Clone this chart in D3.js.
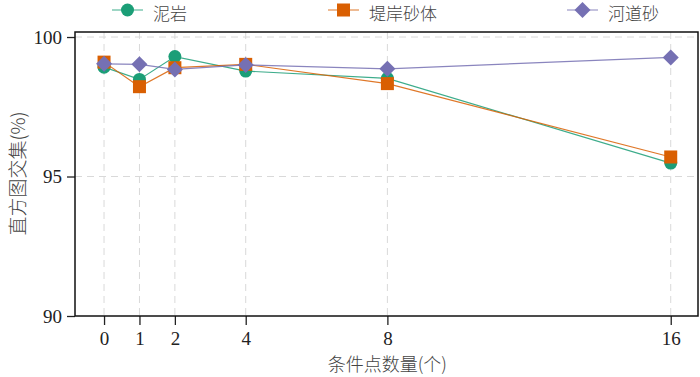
<!DOCTYPE html>
<meta charset="utf-8">
<style>
body { margin: 0; background: #fff; }
.grid line { stroke: #d9d9d9; stroke-dasharray: 7,5; stroke-width: 1; }
.axis text { font-family: "Liberation Serif", serif; font-size: 19px; fill: #222; }
.axis path { display: none; }
.axis line { stroke: #222; stroke-width: 1.3px; }
.title { font-family: "Noto Sans CJK SC", sans-serif; font-size: 18px; fill: #444; font-weight: 300; }
</style>
<svg width="700" height="377"></svg>
<script src="https://cdn.jsdelivr.net/npm/d3@7"></script>
<script>

var xs = [0, 1, 2, 4, 8, 16];
var names = ["泥岩", "堤岸砂体", "河道砂"];
var colors = ["#1b9e77", "#d95f02", "#7570b3"];
var mudstone = [98.92, 98.48, 99.3, 98.78, 98.52, 95.48];
var levee = [99.1, 98.22, 98.9, 99.02, 98.33, 95.7];
var channel = [99.04, 99.02, 98.84, 99.0, 98.86, 99.27];
var yTicks = [90, 95, 100];

var series = [mudstone, levee, channel];

var svg = d3.select("svg"),
    mLeft = 75, mRight = 698, mTop = 32, mBottom = 316;

var x = d3.scaleLinear().domain([-0.82, 16.77]).range([mLeft, mRight]);
var y = d3.scaleLinear().domain([90, 100.18]).range([mBottom, mTop]);

// grid
svg.append("g").attr("class", "grid")
  .selectAll("line").data(xs).enter().append("line")
    .attr("x1", d => x(d)).attr("x2", d => x(d))
    .attr("y1", mTop).attr("y2", mBottom);
svg.append("g").attr("class", "grid")
  .selectAll("line").data([95, 100]).enter().append("line")
    .attr("x1", mLeft).attr("x2", mRight)
    .attr("y1", d => y(d)).attr("y2", d => y(d));

// axes
svg.append("g").attr("class", "axis")
    .attr("transform", "translate(0," + mBottom + ")")
    .call(d3.axisBottom(x).tickValues(xs).tickSize(9).tickPadding(7));
svg.append("g").attr("class", "axis")
    .attr("transform", "translate(" + mLeft + ",0)")
    .call(d3.axisLeft(y).tickValues(yTicks).tickSize(8).tickPadding(5));

svg.append("rect")
    .attr("x", mLeft).attr("y", mTop)
    .attr("width", mRight - mLeft).attr("height", mBottom - mTop)
    .attr("fill", "none").attr("stroke", "#111").attr("stroke-width", 1.5);

function marker(g, i, cx, cy) {
  if (i == 0) {
    g.append("circle").attr("cx", cx).attr("cy", cy).attr("r", 6.5).attr("fill", colors[i]);
  } else if (i == 1) {
    g.append("rect").attr("x", cx - 6.5).attr("y", cy - 6.5)
      .attr("width", 13).attr("height", 13).attr("fill", colors[i]);
  } else {
    g.append("path").attr("d", "M" + cx + "," + (cy - 8) + "L" + (cx + 8) + "," + cy +
      "L" + cx + "," + (cy + 8) + "L" + (cx - 8) + "," + cy + "Z").attr("fill", colors[i]);
  }
}

var line = d3.line().x((d, j) => x(xs[j])).y(d => y(d));

series.forEach(function(s, i) {
  var g = svg.append("g");
  g.append("path").datum(s).attr("d", line)
    .attr("fill", "none").attr("stroke", colors[i]).attr("stroke-width", 1.2).attr("opacity", 0.85);
  s.forEach(function(v, j) { marker(g, i, x(xs[j]), y(v)); });
});

// legend
var legendX = [112, 328, 567];
names.forEach(function(n, i) {
  var g = svg.append("g");
  var lx = legendX[i];
  g.append("line").attr("x1", lx).attr("x2", lx + 31).attr("y1", 10).attr("y2", 10)
    .attr("stroke", colors[i]).attr("stroke-width", 1.2).attr("opacity", 0.7);
  marker(g, i, lx + 15.5, 10);
  g.append("text").attr("class", "title").attr("x", lx + 41).attr("y", 12)
    .style("font-size", "17px")
    .attr("dominant-baseline", "central").text(n);
});

svg.append("text").attr("class", "title")
    .attr("x", x(8)).attr("y", 371).attr("text-anchor", "middle")
    .text("条件点数量(个)");
svg.append("text").attr("class", "title")
    .attr("transform", "translate(25," + (y(95) - 3) + ") rotate(-90)")
    .attr("text-anchor", "middle")
    .style("font-size", "19px")
    .text("直方图交集(%)");

</script>
